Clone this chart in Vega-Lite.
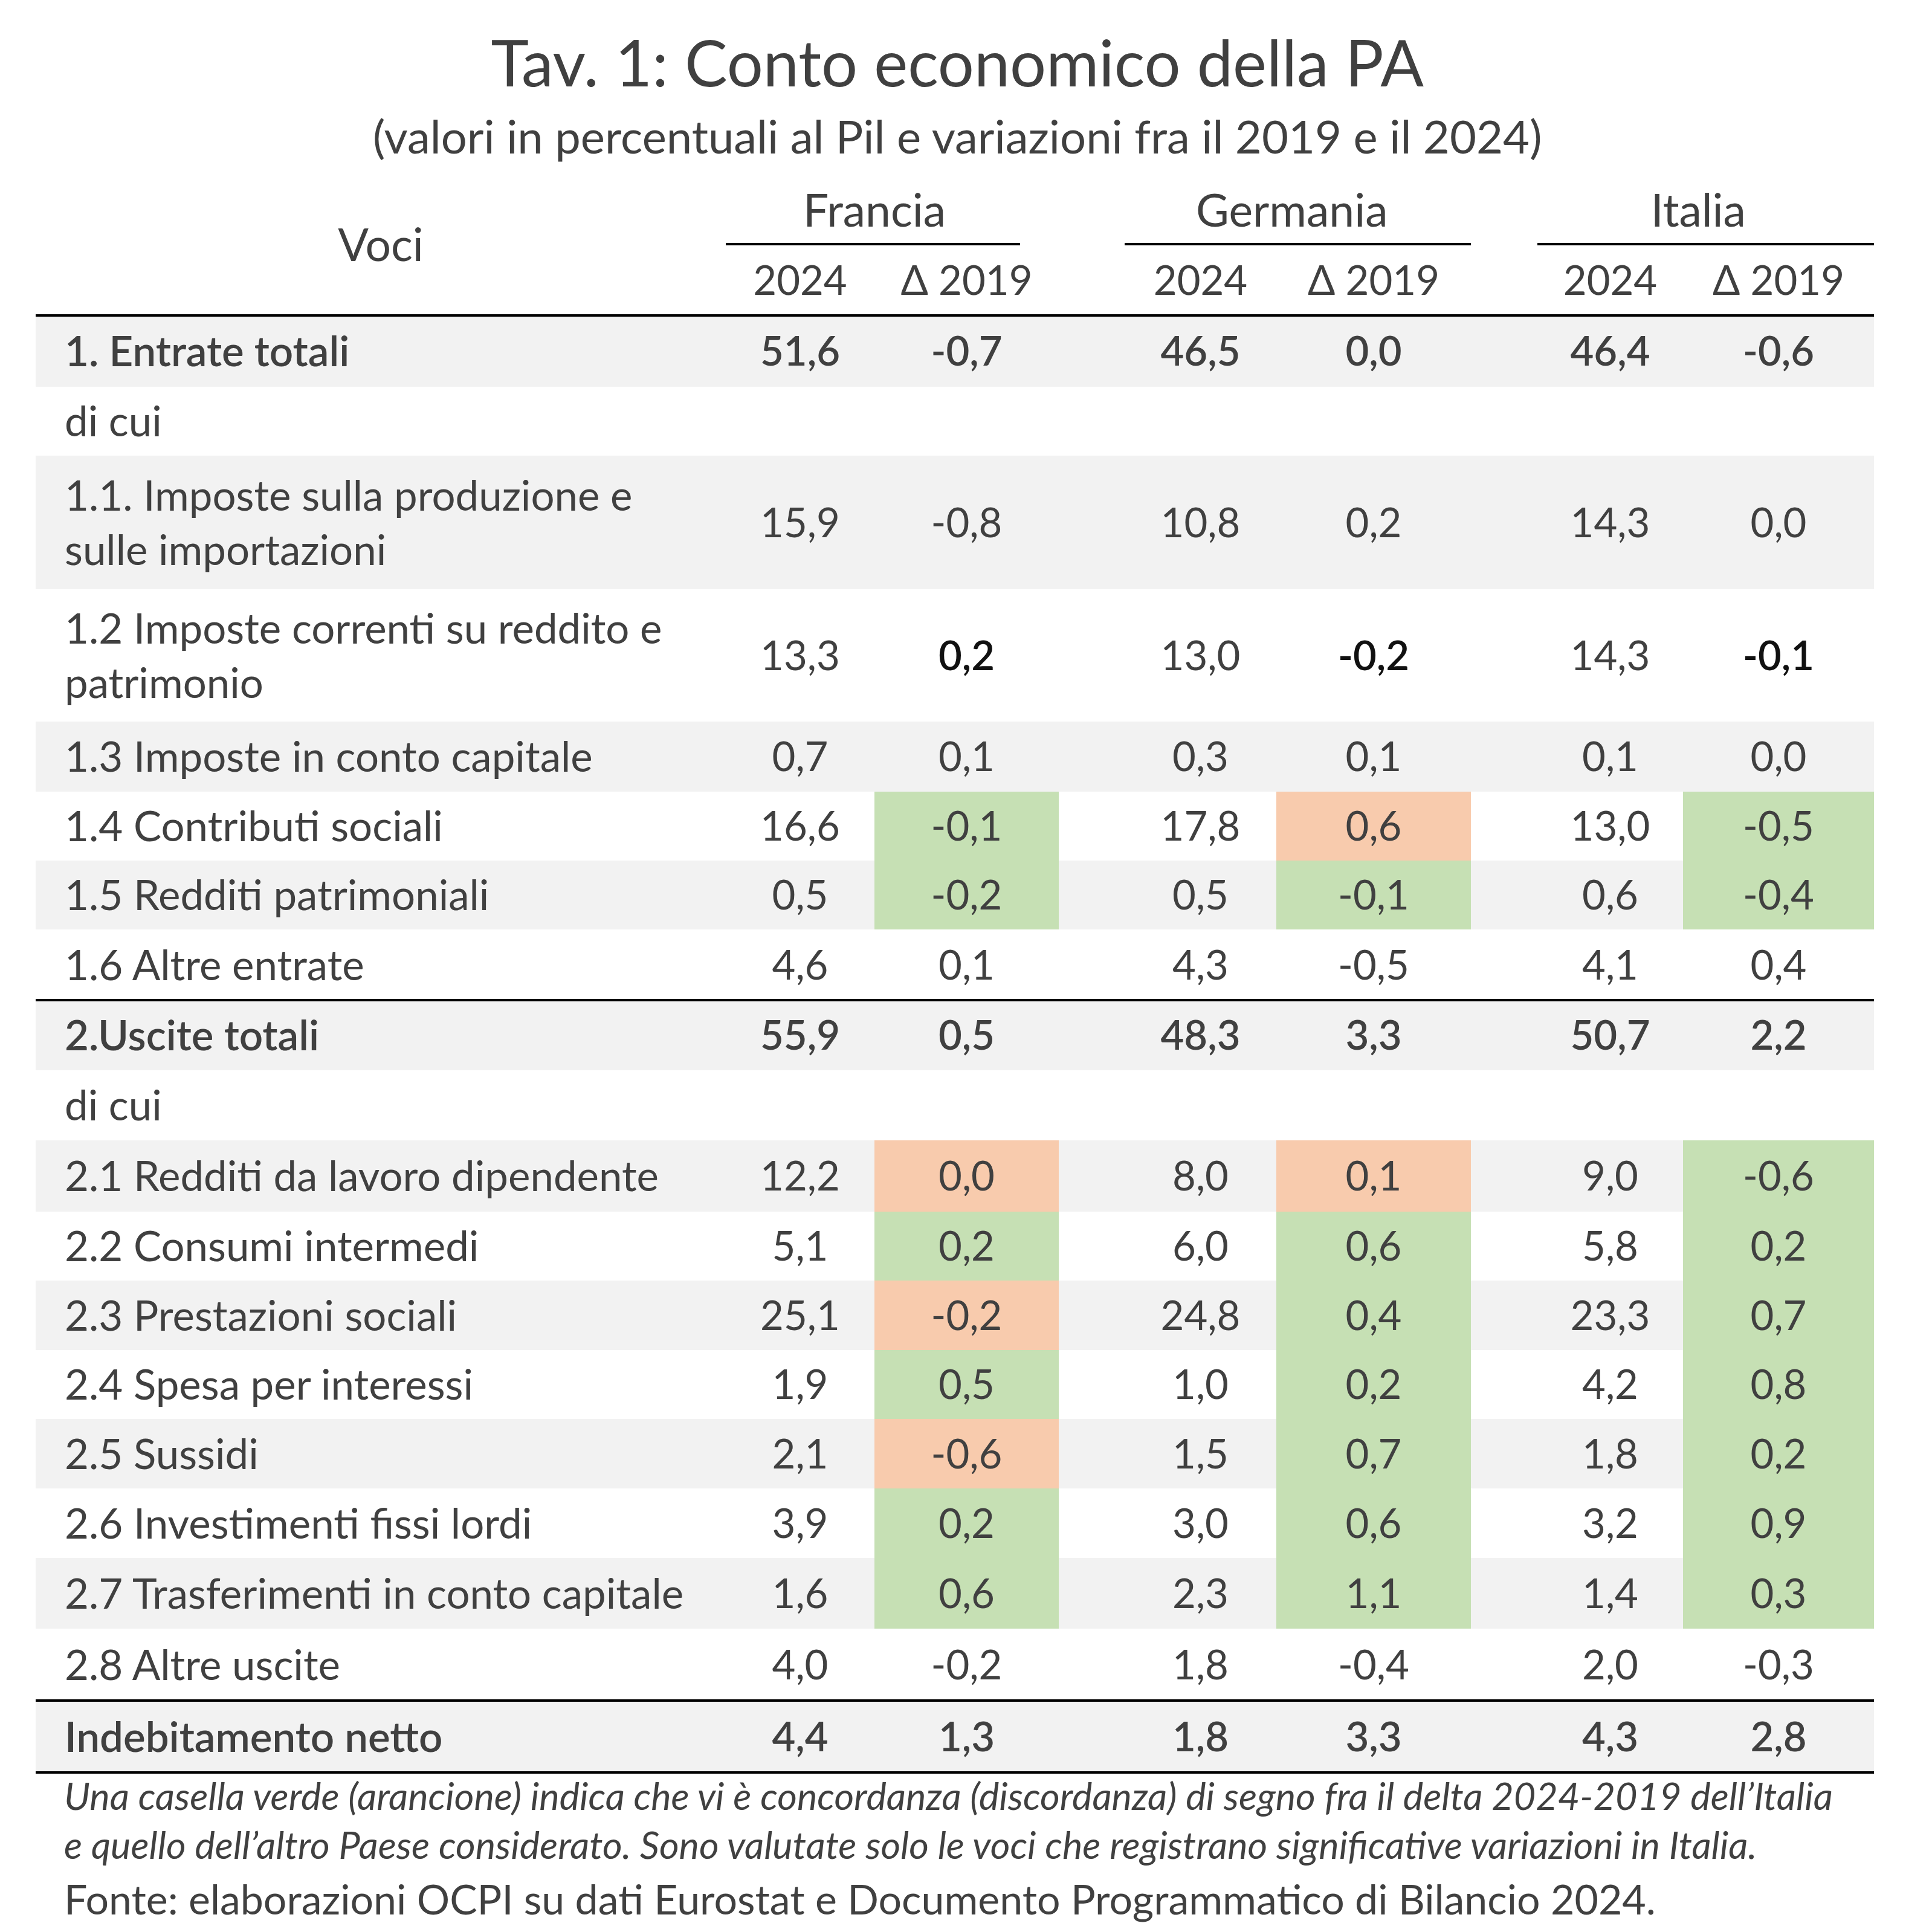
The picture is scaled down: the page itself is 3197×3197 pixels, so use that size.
{
  "$schema": "https://vega.github.io/schema/vega-lite/v6.json",
  "width": 3197,
  "height": 3197,
  "padding": 0,
  "autosize": {"type": "none"},
  "background": "white",
  "config": {
    "view": {"stroke": null},
    "locale": {"number": {"decimal": ",", "thousands": ".", "grouping": [3], "currency": ["", " €"], "minus": "-"}},
    "text": {"font": "Lato", "color": "#404040"}
  },
  "datasets": {
    "rows": [
      {"row": 0, "label": "1. Entrate totali", "fr": 51.6, "frd": -0.7, "de": 46.5, "ded": 0.0, "it": 46.4, "itd": -0.6, "total": true},
      {"row": 1, "label": "di cui", "fr": null, "frd": null, "de": null, "ded": null, "it": null, "itd": null},
      {"row": 2, "label": "1.1. Imposte sulla produzione e\nsulle importazioni", "fr": 15.9, "frd": -0.8, "de": 10.8, "ded": 0.2, "it": 14.3, "itd": 0.0, "twoLines": true},
      {"row": 3, "label": "1.2 Imposte correnti su reddito e\npatrimonio", "fr": 13.3, "frd": 0.2, "de": 13.0, "ded": -0.2, "it": 14.3, "itd": -0.1, "twoLines": true},
      {"row": 4, "label": "1.3 Imposte in conto capitale", "fr": 0.7, "frd": 0.1, "de": 0.3, "ded": 0.1, "it": 0.1, "itd": 0.0},
      {"row": 5, "label": "1.4 Contributi sociali", "fr": 16.6, "frd": -0.1, "de": 17.8, "ded": 0.6, "it": 13.0, "itd": -0.5},
      {"row": 6, "label": "1.5 Redditi patrimoniali", "fr": 0.5, "frd": -0.2, "de": 0.5, "ded": -0.1, "it": 0.6, "itd": -0.4},
      {"row": 7, "label": "1.6 Altre entrate", "fr": 4.6, "frd": 0.1, "de": 4.3, "ded": -0.5, "it": 4.1, "itd": 0.4},
      {"row": 8, "label": "2.Uscite totali", "fr": 55.9, "frd": 0.5, "de": 48.3, "ded": 3.3, "it": 50.7, "itd": 2.2, "total": true},
      {"row": 9, "label": "di cui", "fr": null, "frd": null, "de": null, "ded": null, "it": null, "itd": null},
      {"row": 10, "label": "2.1 Redditi da lavoro dipendente", "fr": 12.2, "frd": 0.0, "de": 8.0, "ded": 0.1, "it": 9.0, "itd": -0.6},
      {"row": 11, "label": "2.2 Consumi intermedi", "fr": 5.1, "frd": 0.2, "de": 6.0, "ded": 0.6, "it": 5.8, "itd": 0.2},
      {"row": 12, "label": "2.3 Prestazioni sociali", "fr": 25.1, "frd": -0.2, "de": 24.8, "ded": 0.4, "it": 23.3, "itd": 0.7},
      {"row": 13, "label": "2.4 Spesa per interessi", "fr": 1.9, "frd": 0.5, "de": 1.0, "ded": 0.2, "it": 4.2, "itd": 0.8},
      {"row": 14, "label": "2.5 Sussidi", "fr": 2.1, "frd": -0.6, "de": 1.5, "ded": 0.7, "it": 1.8, "itd": 0.2},
      {"row": 15, "label": "2.6 Investimenti fissi lordi", "fr": 3.9, "frd": 0.2, "de": 3.0, "ded": 0.6, "it": 3.2, "itd": 0.9},
      {"row": 16, "label": "2.7 Trasferimenti in conto capitale", "fr": 1.6, "frd": 0.6, "de": 2.3, "ded": 1.1, "it": 1.4, "itd": 0.3},
      {"row": 17, "label": "2.8 Altre uscite", "fr": 4.0, "frd": -0.2, "de": 1.8, "ded": -0.4, "it": 2.0, "itd": -0.3},
      {"row": 18, "label": "Indebitamento netto", "fr": 4.4, "frd": 1.3, "de": 1.8, "ded": 3.3, "it": 4.3, "itd": 2.8, "total": true}
    ],
    "columns": [
      {"key": "fr", "left": 1, "right": 2, "head": "2024"},
      {"key": "frd", "left": 2, "right": 3, "head": "Δ 2019"},
      {"key": "de", "left": 4, "right": 5, "head": "2024"},
      {"key": "ded", "left": 5, "right": 6, "head": "Δ 2019"},
      {"key": "it", "left": 7, "right": 8, "head": "2024"},
      {"key": "itd", "left": 8, "right": 9, "head": "Δ 2019"}
    ],
    "countries": [
      {"paese": "Francia", "from": 1, "to": 2.79, "at": 2.0},
      {"paese": "Germania", "from": 4, "to": 6, "at": 5.08},
      {"paese": "Italia", "from": 7, "to": 9, "at": 8.08}
    ],
    "lines": [
      {"y": 0, "from": 0, "to": 9},
      {"y": 8, "from": 0, "to": 9},
      {"y": 18, "from": 0, "to": 9},
      {"y": 19, "from": 0, "to": 9}
    ],
    "highlights": [
      {"row": 5, "key": "frd", "segno": "concordanza"},
      {"row": 5, "key": "ded", "segno": "discordanza"},
      {"row": 5, "key": "itd", "segno": "concordanza"},
      {"row": 6, "key": "frd", "segno": "concordanza"},
      {"row": 6, "key": "ded", "segno": "concordanza"},
      {"row": 6, "key": "itd", "segno": "concordanza"},
      {"row": 10, "key": "frd", "segno": "discordanza"},
      {"row": 10, "key": "ded", "segno": "discordanza"},
      {"row": 10, "key": "itd", "segno": "concordanza"},
      {"row": 11, "key": "frd", "segno": "concordanza"},
      {"row": 11, "key": "ded", "segno": "concordanza"},
      {"row": 11, "key": "itd", "segno": "concordanza"},
      {"row": 12, "key": "frd", "segno": "discordanza"},
      {"row": 12, "key": "ded", "segno": "concordanza"},
      {"row": 12, "key": "itd", "segno": "concordanza"},
      {"row": 13, "key": "frd", "segno": "concordanza"},
      {"row": 13, "key": "ded", "segno": "concordanza"},
      {"row": 13, "key": "itd", "segno": "concordanza"},
      {"row": 14, "key": "frd", "segno": "discordanza"},
      {"row": 14, "key": "ded", "segno": "concordanza"},
      {"row": 14, "key": "itd", "segno": "concordanza"},
      {"row": 15, "key": "frd", "segno": "concordanza"},
      {"row": 15, "key": "ded", "segno": "concordanza"},
      {"row": 15, "key": "itd", "segno": "concordanza"},
      {"row": 16, "key": "frd", "segno": "concordanza"},
      {"row": 16, "key": "ded", "segno": "concordanza"},
      {"row": 16, "key": "itd", "segno": "concordanza"}
    ],
    "notes": [
      {"row": -4, "kind": "titolo", "testo": "Tav. 1: Conto economico della PA"},
      {"row": -3, "kind": "sottotitolo", "testo": "(valori in percentuali al Pil e variazioni fra il 2019 e il 2024)"},
      {"row": 19, "kind": "nota", "testo": "Una casella verde (arancione) indica che vi è concordanza (discordanza) di segno fra il delta 2024-2019 dell’Italia"},
      {"row": 20, "kind": "nota", "testo": "e quello dell’altro Paese considerato. Sono valutate solo le voci che registrano significative variazioni in Italia."},
      {"row": 21, "kind": "fonte", "testo": "Fonte: elaborazioni OCPI su dati Eurostat e Documento Programmatico di Bilancio 2024."}
    ]
  },
  "layer": [
    {
      "data": {"name": "rows"},
      "transform": [{"filter": "datum.row % 2 === 0"}, {"calculate": "datum.row + 1", "as": "rowEnd"}],
      "mark": {"type": "rect", "fill": "#F2F2F2"},
      "encoding": {
        "x": {"datum": 0, "type": "quantitative", "axis": null, "scale": {"type": "linear", "domain": [0,1,2,3,4,5,6,7,8,9], "range": [59,1201,1447,1752,1861,2112,2434,2544,2785,3101], "nice": false, "zero": false}},
        "x2": {"datum": 9},
        "y": {"field": "row", "type": "quantitative", "axis": null, "scale": {"type": "linear", "domain": [-4,-3,-2,-1,0,1,2,3,4,5,6,7,8,9,10,11,12,13,14,15,16,17,18,19,20,21,22], "range": [50,162,290,404,522,640,754,975,1194,1310,1424,1538,1655,1771,1887,2005,2119,2234,2348,2463,2578,2695,2814,2933,3007,3095,3191], "nice": false, "zero": false}},
        "y2": {"field": "rowEnd"}
      }
    },
    {
      "data": {"name": "highlights"},
      "transform": [
        {"lookup": "key", "from": {"data": {"name": "columns"}, "key": "key", "fields": ["left", "right"]}},
        {"calculate": "datum.row + 1", "as": "rowEnd"}
      ],
      "mark": {"type": "rect"},
      "encoding": {
        "x": {"field": "left", "type": "quantitative", "axis": null, "scale": {"type": "linear", "domain": [0,1,2,3,4,5,6,7,8,9], "range": [59,1201,1447,1752,1861,2112,2434,2544,2785,3101], "nice": false, "zero": false}},
        "x2": {"field": "right"},
        "y": {"field": "row", "type": "quantitative", "axis": null, "scale": {"type": "linear", "domain": [-4,-3,-2,-1,0,1,2,3,4,5,6,7,8,9,10,11,12,13,14,15,16,17,18,19,20,21,22], "range": [50,162,290,404,522,640,754,975,1194,1310,1424,1538,1655,1771,1887,2005,2119,2234,2348,2463,2578,2695,2814,2933,3007,3095,3191], "nice": false, "zero": false}},
        "y2": {"field": "rowEnd"},
        "fill": {"field": "segno", "type": "nominal", "legend": null, "scale": {"domain": ["concordanza", "discordanza"], "range": ["#C6E0B4", "#F8CBAD"]}}
      }
    },
    {
      "data": {"name": "lines"},
      "mark": {"type": "rule", "stroke": "#000000", "strokeWidth": 4},
      "encoding": {
        "x": {"field": "from", "type": "quantitative", "axis": null, "scale": {"type": "linear", "domain": [0,1,2,3,4,5,6,7,8,9], "range": [59,1201,1447,1752,1861,2112,2434,2544,2785,3101], "nice": false, "zero": false}},
        "x2": {"field": "to"},
        "y": {"field": "y", "type": "quantitative", "axis": null, "scale": {"type": "linear", "domain": [-4,-3,-2,-1,0,1,2,3,4,5,6,7,8,9,10,11,12,13,14,15,16,17,18,19,20,21,22], "range": [50,162,290,404,522,640,754,975,1194,1310,1424,1538,1655,1771,1887,2005,2119,2234,2348,2463,2578,2695,2814,2933,3007,3095,3191], "nice": false, "zero": false}}
      }
    },
    {
      "data": {"name": "countries"},
      "mark": {"type": "rule", "stroke": "#000000", "strokeWidth": 4},
      "encoding": {
        "x": {"field": "from", "type": "quantitative", "axis": null, "scale": {"type": "linear", "domain": [0,1,2,3,4,5,6,7,8,9], "range": [59,1201,1447,1752,1861,2112,2434,2544,2785,3101], "nice": false, "zero": false}},
        "x2": {"field": "to"},
        "y": {"datum": -1, "type": "quantitative", "axis": null, "scale": {"type": "linear", "domain": [-4,-3,-2,-1,0,1,2,3,4,5,6,7,8,9,10,11,12,13,14,15,16,17,18,19,20,21,22], "range": [50,162,290,404,522,640,754,975,1194,1310,1424,1538,1655,1771,1887,2005,2119,2234,2348,2463,2578,2695,2814,2933,3007,3095,3191], "nice": false, "zero": false}}
      }
    },
    {
      "data": {"name": "countries"},
      "mark": {"type": "text", "fontSize": 75, "baseline": "middle", "align": "center", "dy": 5},
      "encoding": {
        "x": {"field": "at", "type": "quantitative", "axis": null, "scale": {"type": "linear", "domain": [0,1,2,3,4,5,6,7,8,9], "range": [59,1201,1447,1752,1861,2112,2434,2544,2785,3101], "nice": false, "zero": false}},
        "y": {"datum": -1.5, "type": "quantitative", "axis": null, "scale": {"type": "linear", "domain": [-4,-3,-2,-1,0,1,2,3,4,5,6,7,8,9,10,11,12,13,14,15,16,17,18,19,20,21,22], "range": [50,162,290,404,522,640,754,975,1194,1310,1424,1538,1655,1771,1887,2005,2119,2234,2348,2463,2578,2695,2814,2933,3007,3095,3191], "nice": false, "zero": false}},
        "text": {"field": "paese"}
      }
    },
    {
      "data": {"name": "columns"},
      "transform": [{"calculate": "(datum.left + datum.right) / 2", "as": "colMid"}],
      "mark": {"type": "text", "fontSize": 67, "baseline": "middle", "align": "center", "dy": 5},
      "encoding": {
        "x": {"field": "colMid", "type": "quantitative", "axis": null, "scale": {"type": "linear", "domain": [0,1,2,3,4,5,6,7,8,9], "range": [59,1201,1447,1752,1861,2112,2434,2544,2785,3101], "nice": false, "zero": false}},
        "y": {"datum": -0.5, "type": "quantitative", "axis": null, "scale": {"type": "linear", "domain": [-4,-3,-2,-1,0,1,2,3,4,5,6,7,8,9,10,11,12,13,14,15,16,17,18,19,20,21,22], "range": [50,162,290,404,522,640,754,975,1194,1310,1424,1538,1655,1771,1887,2005,2119,2234,2348,2463,2578,2695,2814,2933,3007,3095,3191], "nice": false, "zero": false}},
        "text": {"field": "head"}
      }
    },
    {
      "data": {"values": [{"voce": "Voci"}]},
      "mark": {"type": "text", "fontSize": 75, "baseline": "middle", "align": "center", "dy": 5},
      "encoding": {
        "x": {"datum": 0.5, "type": "quantitative", "axis": null, "scale": {"type": "linear", "domain": [0,1,2,3,4,5,6,7,8,9], "range": [59,1201,1447,1752,1861,2112,2434,2544,2785,3101], "nice": false, "zero": false}},
        "y": {"datum": -1, "type": "quantitative", "axis": null, "scale": {"type": "linear", "domain": [-4,-3,-2,-1,0,1,2,3,4,5,6,7,8,9,10,11,12,13,14,15,16,17,18,19,20,21,22], "range": [50,162,290,404,522,640,754,975,1194,1310,1424,1538,1655,1771,1887,2005,2119,2234,2348,2463,2578,2695,2814,2933,3007,3095,3191], "nice": false, "zero": false}},
        "text": {"field": "voce"}
      }
    },
    {
      "data": {"name": "rows"},
      "transform": [{"filter": "!datum.total && !datum.twoLines"}, {"calculate": "datum.row + 0.5", "as": "rowMid"}],
      "mark": {"type": "text", "fontSize": 69, "baseline": "middle", "align": "left", "dx": 48, "dy": 4},
      "encoding": {
        "x": {"datum": 0, "type": "quantitative", "axis": null, "scale": {"type": "linear", "domain": [0,1,2,3,4,5,6,7,8,9], "range": [59,1201,1447,1752,1861,2112,2434,2544,2785,3101], "nice": false, "zero": false}},
        "y": {"field": "rowMid", "type": "quantitative", "axis": null, "scale": {"type": "linear", "domain": [-4,-3,-2,-1,0,1,2,3,4,5,6,7,8,9,10,11,12,13,14,15,16,17,18,19,20,21,22], "range": [50,162,290,404,522,640,754,975,1194,1310,1424,1538,1655,1771,1887,2005,2119,2234,2348,2463,2578,2695,2814,2933,3007,3095,3191], "nice": false, "zero": false}},
        "text": {"field": "label"}
      }
    },
    {
      "data": {"name": "rows"},
      "transform": [{"filter": "datum.twoLines"}, {"calculate": "datum.row + 0.5", "as": "rowMid"}],
      "mark": {"type": "text", "fontSize": 69, "baseline": "middle", "align": "left", "dx": 48, "dy": -41, "lineBreak": "\n", "lineHeight": 90},
      "encoding": {
        "x": {"datum": 0, "type": "quantitative", "axis": null, "scale": {"type": "linear", "domain": [0,1,2,3,4,5,6,7,8,9], "range": [59,1201,1447,1752,1861,2112,2434,2544,2785,3101], "nice": false, "zero": false}},
        "y": {"field": "rowMid", "type": "quantitative", "axis": null, "scale": {"type": "linear", "domain": [-4,-3,-2,-1,0,1,2,3,4,5,6,7,8,9,10,11,12,13,14,15,16,17,18,19,20,21,22], "range": [50,162,290,404,522,640,754,975,1194,1310,1424,1538,1655,1771,1887,2005,2119,2234,2348,2463,2578,2695,2814,2933,3007,3095,3191], "nice": false, "zero": false}},
        "text": {"field": "label"}
      }
    },
    {
      "data": {"name": "rows"},
      "transform": [{"filter": "datum.total"}, {"calculate": "datum.row + 0.5", "as": "rowMid"}],
      "mark": {"type": "text", "fontSize": 69, "fontWeight": 600, "baseline": "middle", "align": "left", "dx": 48, "dy": 4},
      "encoding": {
        "x": {"datum": 0, "type": "quantitative", "axis": null, "scale": {"type": "linear", "domain": [0,1,2,3,4,5,6,7,8,9], "range": [59,1201,1447,1752,1861,2112,2434,2544,2785,3101], "nice": false, "zero": false}},
        "y": {"field": "rowMid", "type": "quantitative", "axis": null, "scale": {"type": "linear", "domain": [-4,-3,-2,-1,0,1,2,3,4,5,6,7,8,9,10,11,12,13,14,15,16,17,18,19,20,21,22], "range": [50,162,290,404,522,640,754,975,1194,1310,1424,1538,1655,1771,1887,2005,2119,2234,2348,2463,2578,2695,2814,2933,3007,3095,3191], "nice": false, "zero": false}},
        "text": {"field": "label"}
      }
    },
    {
      "data": {"name": "rows"},
      "transform": [
        {"fold": ["fr", "frd", "de", "ded", "it", "itd"], "as": ["key", "value"]},
        {"filter": "isValid(datum.value) && !datum.total && !(datum.row === 3 && (datum.key === 'frd' || datum.key === 'ded' || datum.key === 'itd'))"},
        {"lookup": "key", "from": {"data": {"name": "columns"}, "key": "key", "fields": ["left", "right"]}},
        {"calculate": "datum.row + 0.5", "as": "rowMid"},
        {"calculate": "(datum.left + datum.right) / 2", "as": "colMid"}
      ],
      "mark": {"type": "text", "fontSize": 67, "baseline": "middle", "align": "center", "dy": 4},
      "encoding": {
        "x": {"field": "colMid", "type": "quantitative", "axis": null, "scale": {"type": "linear", "domain": [0,1,2,3,4,5,6,7,8,9], "range": [59,1201,1447,1752,1861,2112,2434,2544,2785,3101], "nice": false, "zero": false}},
        "y": {"field": "rowMid", "type": "quantitative", "axis": null, "scale": {"type": "linear", "domain": [-4,-3,-2,-1,0,1,2,3,4,5,6,7,8,9,10,11,12,13,14,15,16,17,18,19,20,21,22], "range": [50,162,290,404,522,640,754,975,1194,1310,1424,1538,1655,1771,1887,2005,2119,2234,2348,2463,2578,2695,2814,2933,3007,3095,3191], "nice": false, "zero": false}},
        "text": {"field": "value", "type": "quantitative", "format": ".1f"}
      }
    },
    {
      "data": {"name": "rows"},
      "transform": [
        {"fold": ["fr", "frd", "de", "ded", "it", "itd"], "as": ["key", "value"]},
        {"filter": "isValid(datum.value) && datum.total"},
        {"lookup": "key", "from": {"data": {"name": "columns"}, "key": "key", "fields": ["left", "right"]}},
        {"calculate": "datum.row + 0.5", "as": "rowMid"},
        {"calculate": "(datum.left + datum.right) / 2", "as": "colMid"}
      ],
      "mark": {"type": "text", "fontSize": 67, "fontWeight": 600, "baseline": "middle", "align": "center", "dy": 4},
      "encoding": {
        "x": {"field": "colMid", "type": "quantitative", "axis": null, "scale": {"type": "linear", "domain": [0,1,2,3,4,5,6,7,8,9], "range": [59,1201,1447,1752,1861,2112,2434,2544,2785,3101], "nice": false, "zero": false}},
        "y": {"field": "rowMid", "type": "quantitative", "axis": null, "scale": {"type": "linear", "domain": [-4,-3,-2,-1,0,1,2,3,4,5,6,7,8,9,10,11,12,13,14,15,16,17,18,19,20,21,22], "range": [50,162,290,404,522,640,754,975,1194,1310,1424,1538,1655,1771,1887,2005,2119,2234,2348,2463,2578,2695,2814,2933,3007,3095,3191], "nice": false, "zero": false}},
        "text": {"field": "value", "type": "quantitative", "format": ".1f"}
      }
    },
    {
      "data": {"name": "rows"},
      "transform": [
        {"fold": ["fr", "frd", "de", "ded", "it", "itd"], "as": ["key", "value"]},
        {"filter": "datum.row === 3 && (datum.key === 'frd' || datum.key === 'ded' || datum.key === 'itd')"},
        {"lookup": "key", "from": {"data": {"name": "columns"}, "key": "key", "fields": ["left", "right"]}},
        {"calculate": "datum.row + 0.5", "as": "rowMid"},
        {"calculate": "(datum.left + datum.right) / 2", "as": "colMid"}
      ],
      "mark": {"type": "text", "fontSize": 67, "fontWeight": 600, "baseline": "middle", "align": "center", "dy": 4, "color": "#111111"},
      "encoding": {
        "x": {"field": "colMid", "type": "quantitative", "axis": null, "scale": {"type": "linear", "domain": [0,1,2,3,4,5,6,7,8,9], "range": [59,1201,1447,1752,1861,2112,2434,2544,2785,3101], "nice": false, "zero": false}},
        "y": {"field": "rowMid", "type": "quantitative", "axis": null, "scale": {"type": "linear", "domain": [-4,-3,-2,-1,0,1,2,3,4,5,6,7,8,9,10,11,12,13,14,15,16,17,18,19,20,21,22], "range": [50,162,290,404,522,640,754,975,1194,1310,1424,1538,1655,1771,1887,2005,2119,2234,2348,2463,2578,2695,2814,2933,3007,3095,3191], "nice": false, "zero": false}},
        "text": {"field": "value", "type": "quantitative", "format": ".1f"}
      }
    },
    {
      "data": {"name": "notes"},
      "transform": [{"filter": "datum.kind === 'titolo'"}, {"calculate": "datum.row + 0.5", "as": "rowMid"}],
      "mark": {"type": "text", "fontSize": 106, "baseline": "middle", "align": "center", "dy": 5},
      "encoding": {
        "x": {"datum": 2.45, "type": "quantitative", "axis": null, "scale": {"type": "linear", "domain": [0,1,2,3,4,5,6,7,8,9], "range": [59,1201,1447,1752,1861,2112,2434,2544,2785,3101], "nice": false, "zero": false}},
        "y": {"field": "rowMid", "type": "quantitative", "axis": null, "scale": {"type": "linear", "domain": [-4,-3,-2,-1,0,1,2,3,4,5,6,7,8,9,10,11,12,13,14,15,16,17,18,19,20,21,22], "range": [50,162,290,404,522,640,754,975,1194,1310,1424,1538,1655,1771,1887,2005,2119,2234,2348,2463,2578,2695,2814,2933,3007,3095,3191], "nice": false, "zero": false}},
        "text": {"field": "testo"}
      }
    },
    {
      "data": {"name": "notes"},
      "transform": [{"filter": "datum.kind === 'sottotitolo'"}, {"calculate": "datum.row + 0.5", "as": "rowMid"}],
      "mark": {"type": "text", "fontSize": 76, "baseline": "middle", "align": "center", "dy": 5},
      "encoding": {
        "x": {"datum": 2.45, "type": "quantitative", "axis": null, "scale": {"type": "linear", "domain": [0,1,2,3,4,5,6,7,8,9], "range": [59,1201,1447,1752,1861,2112,2434,2544,2785,3101], "nice": false, "zero": false}},
        "y": {"field": "rowMid", "type": "quantitative", "axis": null, "scale": {"type": "linear", "domain": [-4,-3,-2,-1,0,1,2,3,4,5,6,7,8,9,10,11,12,13,14,15,16,17,18,19,20,21,22], "range": [50,162,290,404,522,640,754,975,1194,1310,1424,1538,1655,1771,1887,2005,2119,2234,2348,2463,2578,2695,2814,2933,3007,3095,3191], "nice": false, "zero": false}},
        "text": {"field": "testo"}
      }
    },
    {
      "data": {"name": "notes"},
      "transform": [{"filter": "datum.kind === 'nota'"}, {"calculate": "datum.row + 0.5", "as": "rowMid"}],
      "mark": {"type": "text", "fontSize": 63, "fontStyle": "italic", "baseline": "middle", "align": "left", "dx": 47, "dy": 6},
      "encoding": {
        "x": {"datum": 0, "type": "quantitative", "axis": null, "scale": {"type": "linear", "domain": [0,1,2,3,4,5,6,7,8,9], "range": [59,1201,1447,1752,1861,2112,2434,2544,2785,3101], "nice": false, "zero": false}},
        "y": {"field": "rowMid", "type": "quantitative", "axis": null, "scale": {"type": "linear", "domain": [-4,-3,-2,-1,0,1,2,3,4,5,6,7,8,9,10,11,12,13,14,15,16,17,18,19,20,21,22], "range": [50,162,290,404,522,640,754,975,1194,1310,1424,1538,1655,1771,1887,2005,2119,2234,2348,2463,2578,2695,2814,2933,3007,3095,3191], "nice": false, "zero": false}},
        "text": {"field": "testo"}
      }
    },
    {
      "data": {"name": "notes"},
      "transform": [{"filter": "datum.kind === 'fonte'"}, {"calculate": "datum.row + 0.5", "as": "rowMid"}],
      "mark": {"type": "text", "fontSize": 68, "baseline": "middle", "align": "left", "dx": 47, "dy": 5},
      "encoding": {
        "x": {"datum": 0, "type": "quantitative", "axis": null, "scale": {"type": "linear", "domain": [0,1,2,3,4,5,6,7,8,9], "range": [59,1201,1447,1752,1861,2112,2434,2544,2785,3101], "nice": false, "zero": false}},
        "y": {"field": "rowMid", "type": "quantitative", "axis": null, "scale": {"type": "linear", "domain": [-4,-3,-2,-1,0,1,2,3,4,5,6,7,8,9,10,11,12,13,14,15,16,17,18,19,20,21,22], "range": [50,162,290,404,522,640,754,975,1194,1310,1424,1538,1655,1771,1887,2005,2119,2234,2348,2463,2578,2695,2814,2933,3007,3095,3191], "nice": false, "zero": false}},
        "text": {"field": "testo"}
      }
    }
  ]
}
